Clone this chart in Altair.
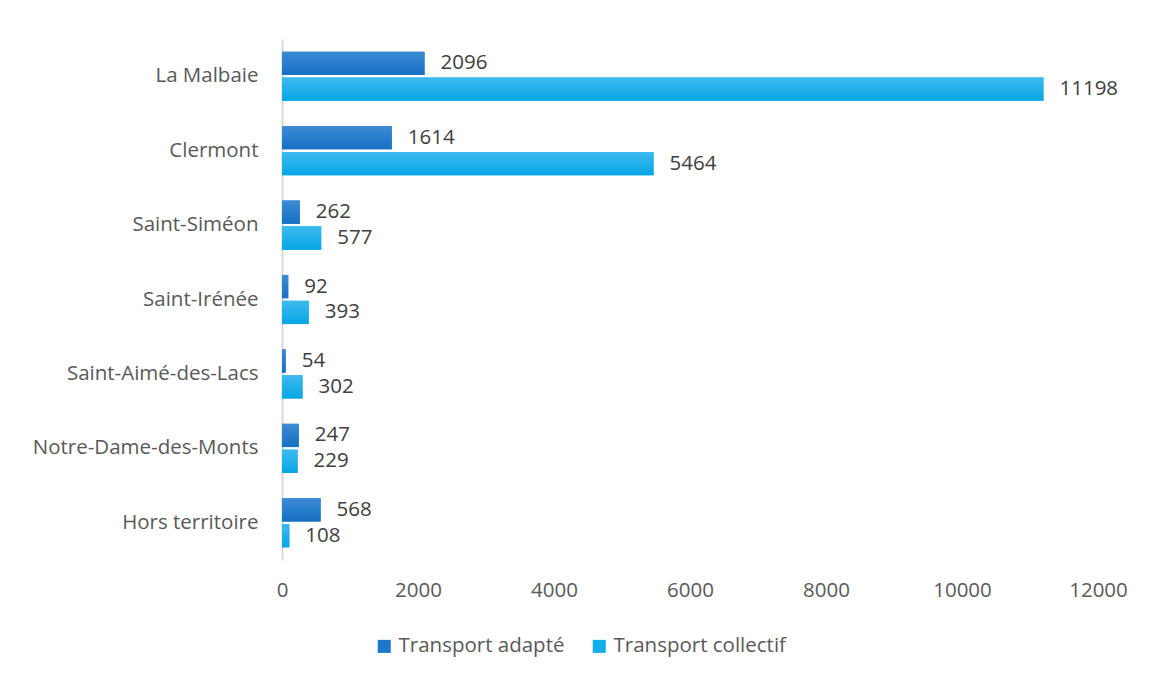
import altair as alt
import pandas as pd

categories = ["La Malbaie", "Clermont", "Saint-Siméon", "Saint-Irénée",
              "Saint-Aimé-des-Lacs", "Notre-Dame-des-Monts", "Hors territoire"]
adapte = [2096, 1614, 262, 92, 54, 247, 568]
collectif = [11198, 5464, 577, 393, 302, 229, 108]
series = ["Transport adapté", "Transport collectif"]
x_ticks = [0, 2000, 4000, 6000, 8000, 10000, 12000]

rows = []
for c, a, b in zip(categories, adapte, collectif):
    rows.append({"cat": c, "serie": series[0], "val": a})
    rows.append({"cat": c, "serie": series[1], "val": b})
df = pd.DataFrame(rows)

FONT = "Open Sans"
FS = 20.5

y_enc = alt.Y("cat:N", sort=categories,
              scale=alt.Scale(paddingInner=0.34, paddingOuter=0.17),
              axis=alt.Axis(title=None, ticks=False, labelFontSize=FS,
                            labelColor="#595959", labelPadding=24, labelLimit=400,
                            domainColor="#d9d9d9", domainWidth=2,
                            labelFont=FONT))
x_enc = alt.X("val:Q", scale=alt.Scale(domain=[0, 12000], nice=False),
              axis=alt.Axis(title=None, values=x_ticks, grid=False, domain=False,
                            ticks=False, labelFontSize=FS, labelColor="#595959",
                            labelPadding=20, labelFont=FONT, format="d",
                            labelFlush=False))
yoff = alt.YOffset("serie:N", sort=series, scale=alt.Scale(paddingInner=0.1))

base = alt.Chart(df)

bars = base.mark_bar().encode(
    y=y_enc, x=x_enc, yOffset=yoff,
    color=alt.Color("serie:N", sort=series,
                    scale=alt.Scale(domain=series, range=["#1F77C9", "#12AEE9"]),
                    legend=alt.Legend(title=None, orient="none", direction="horizontal",
                                      legendX=92, legendY=597, symbolType="square",
                                      symbolSize=170, symbolStrokeWidth=0,
                                      labelFontSize=FS, labelColor="#595959",
                                      labelFont=FONT, columnPadding=24,
                                      symbolOffset=0, labelOffset=4, labelLimit=400)),
)

grad_a = alt.Gradient(gradient="linear", x1=0, y1=0, x2=0, y2=1,
                      stops=[alt.GradientStop(color="#3D8BD5", offset=0),
                             alt.GradientStop(color="#1570C2", offset=1)])
grad_b = alt.Gradient(gradient="linear", x1=0, y1=0, x2=0, y2=1,
                      stops=[alt.GradientStop(color="#3EBAEE", offset=0),
                             alt.GradientStop(color="#06A6E5", offset=1)])

over_a = base.transform_filter(alt.datum.serie == series[0]).mark_bar(color=grad_a).encode(
    y=y_enc, x=x_enc, yOffset=yoff)
over_b = base.transform_filter(alt.datum.serie == series[1]).mark_bar(color=grad_b).encode(
    y=y_enc, x=x_enc, yOffset=yoff)

labels = base.mark_text(align="left", baseline="middle", dx=16, fontSize=FS,
                        color="#404040", font=FONT).encode(
    y=y_enc, x=x_enc, yOffset=yoff, text=alt.Text("val:Q", format="d"))

chart = alt.layer(bars, over_a, over_b, labels).properties(
    width=816, height=521,
    background="white",
    padding={"left": 274, "top": 31, "right": 48, "bottom": 111},
    autosize=alt.AutoSizeParams(type="none"),
).configure_view(strokeWidth=0)

chart.save("out.html", embed_options={"renderer": "svg", "actions": False})
